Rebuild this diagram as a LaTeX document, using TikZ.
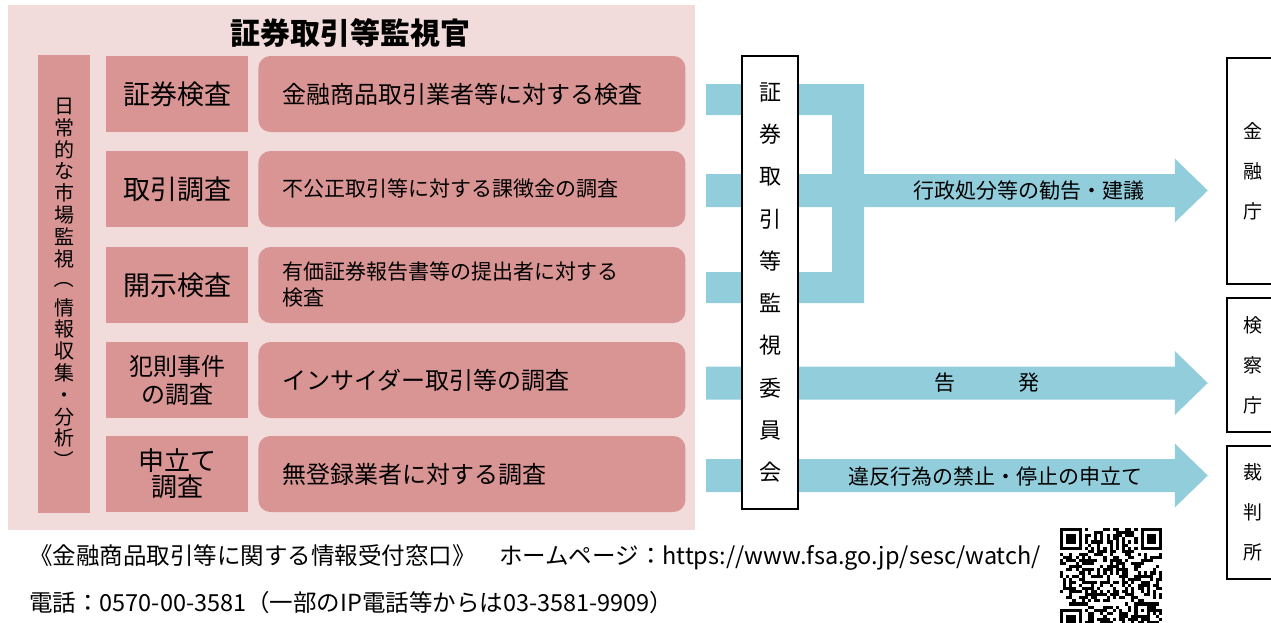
\documentclass[tikz,border=0pt]{standalone}
\usepackage{fontspec}
\usepackage{graphicx}
\setmainfont{Noto Sans CJK JP}
\usetikzlibrary{calc,positioning}
\definecolor{bgpink}{HTML}{F2DCDB}
\definecolor{boxpink}{HTML}{D99594}
\definecolor{flowblue}{HTML}{92CDDC}
\tikzstyle{every node}=[inner sep=0pt]
\tikzstyle{kind}=[fill=boxpink,minimum width=142pt,minimum height=76pt,align=center,font=\fontsize{27}{28}\selectfont]
\tikzstyle{task}=[fill=boxpink,rounded corners=12pt,minimum height=76pt,inner xsep=24pt,text width=379pt,align=left]
\tikzstyle{vbox}=[draw=black,line width=2.5pt,fill=white,align=center]
\tikzstyle{agency}=[vbox,minimum width=52pt,font=\fontsize{19}{40}\selectfont]
\tikzstyle{flowlabel}=[font=\fontsize{21}{24}\selectfont]
\tikzstyle{footer}=[anchor=west,font=\fontsize{23.5}{26}\selectfont]

\newcommand\flowarrow[2]{%
  \fill[flowblue] ($(#1)+(0,-16.5)$) -- ($(#2)+(-33,-16.5)$) -- ($(#2)+(-33,-32)$) -- (#2)
    -- ($(#2)+(-33,32)$) -- ($(#2)+(-33,16.5)$) -- ($(#1)+(0,16.5)$) -- cycle;}
\newcommand\vopen{\raisebox{7pt}{\rotatebox[origin=c]{-90}{（}}}
\newcommand\vclose{\rotatebox[origin=c]{-90}{）}}

\begin{document}
\begin{tikzpicture}[x=1pt,y=-1pt]
  \useasboundingbox (0,0) rectangle (1271,622);
  \clip (0,0) rectangle (1271,622);
  \fill[bgpink] (8,5) rectangle (695,530);
  \node[font=\fontsize{30}{32}\selectfont\bfseries] (title) at (350,33) {証券取引等監視官};
  \node[fill=boxpink,minimum width=52pt,minimum height=458pt,align=center,
    font=\fontsize{20}{21.8}\selectfont] (watch) at (64,284)
    {日\\常\\的\\な\\市\\場\\監\\視\\\vopen\\情\\報\\収\\集\\・\\分\\析\\\vclose};

  \node[kind] (k1) at (177,94) {証券検査};
  \node[kind] (k2) at (177,189) {取引調査};
  \node[kind] (k3) at (177,285) {開示検査};
  \node[kind,font=\fontsize{24}{28}\selectfont] (k4) at (177,380) {犯則事件\\の調査};
  \node[kind,font=\fontsize{26}{26}\selectfont] (k5) at (177,474) {申立て\\調査};

  \node[task,right=10pt of k1,font=\fontsize{24}{26}\selectfont] (t1) {金融商品取引業者等に対する検査};
  \node[task,right=10pt of k2,font=\fontsize{21}{26}\selectfont] (t2) {不公正取引等に対する課徴金の調査};
  \node[task,right=10pt of k3,font=\fontsize{21}{26}\selectfont] (t3) {有価証券報告書等の提出者に対する\\検査};
  \node[task,right=10pt of k4,font=\fontsize{24}{26}\selectfont] (t4) {インサイダー取引等の調査};
  \node[task,right=10pt of k5,font=\fontsize{24}{26}\selectfont] (t5) {無登録業者に対する調査};

  \node[agency,minimum height=226pt] (fsa) at (1253,171) {金\\融\\庁};
  \node[agency,minimum height=134pt] (ppo) at (1253,365) {検\\察\\庁};
  \node[agency,minimum height=133pt] (court) at (1253,512.5) {裁\\判\\所};

  \coordinate (a1) at (706,190.5);
  \coordinate (a2) at (706,383);
  \coordinate (a3) at (706,475.5);
  \coordinate[xshift=-18pt] (h1) at (fsa.west |- a1);
  \coordinate[xshift=-18pt] (h2) at (ppo.west |- a2);
  \coordinate[xshift=-18pt] (h3) at (court.west |- a3);
  \fill[flowblue] (706,84) -- (864,84) -- (864,303) -- (706,303) -- (706,272)
    -- (832,272) -- (832,115) -- (706,115) -- cycle;
  \flowarrow{a1}{h1}
  \flowarrow{a2}{h2}
  \flowarrow{a3}{h3}

  \node[vbox,minimum width=56pt,minimum height=453pt,font=\fontsize{22}{42.3}\selectfont] (sesc)
    at (770,282.5) {証\\券\\取\\引\\等\\監\\視\\委\\員\\会};

  \node[flowlabel] (l1) at (1029,191) {行政処分等の勧告・建議};
  \node[flowlabel] (l2) at (987,383) {告　　　発};
  \node[flowlabel] (l3) at (995,477) {違反行為の禁止・停止の申立て};

  \node[footer] (desk) at (29,557) {《金融商品取引等に関する情報受付窓口》　ホームページ：https://www.fsa.go.jp/sesc/watch/};
  \node[footer] (tel) at (29,603) {電話：0570-00-3581（一部のIP電話等からは03-3581-9909）};

  \pgfmathsetseed{12}
  \foreach \i in {0,...,32}{\foreach \j in {0,...,32}{
    \pgfmathtruncatemacro\on{((\i<8 && \j<8) || (\i>24 && \j<8) || (\i<8 && \j>24) || (\i>23 && \i<29 && \j>23 && \j<29)) ? 0 : ((\i==6 || \j==6) ? (mod(\i+\j,2)==0) : (rnd<0.5))}
    \ifnum\on=1 \fill (1060+3.1*\i,528+3.1*\j) rectangle +(3.1,3.1); \fi
  }}
  \foreach \fx/\fy in {0/0,26/0,0/26}{
    \fill (1060+3.1*\fx,528+3.1*\fy) rectangle +(21.7,21.7);
    \fill[white] (1063.1+3.1*\fx,531.1+3.1*\fy) rectangle +(15.5,15.5);
    \fill (1066.2+3.1*\fx,534.2+3.1*\fy) rectangle +(9.3,9.3);
  }
  \fill (1060+3.1*24,528+3.1*24) rectangle +(15.5,15.5);
  \fill[white] (1063.1+3.1*24,531.1+3.1*24) rectangle +(9.3,9.3);
  \fill (1066.2+3.1*24,534.2+3.1*24) rectangle +(3.1,3.1);
\end{tikzpicture}
\end{document}
